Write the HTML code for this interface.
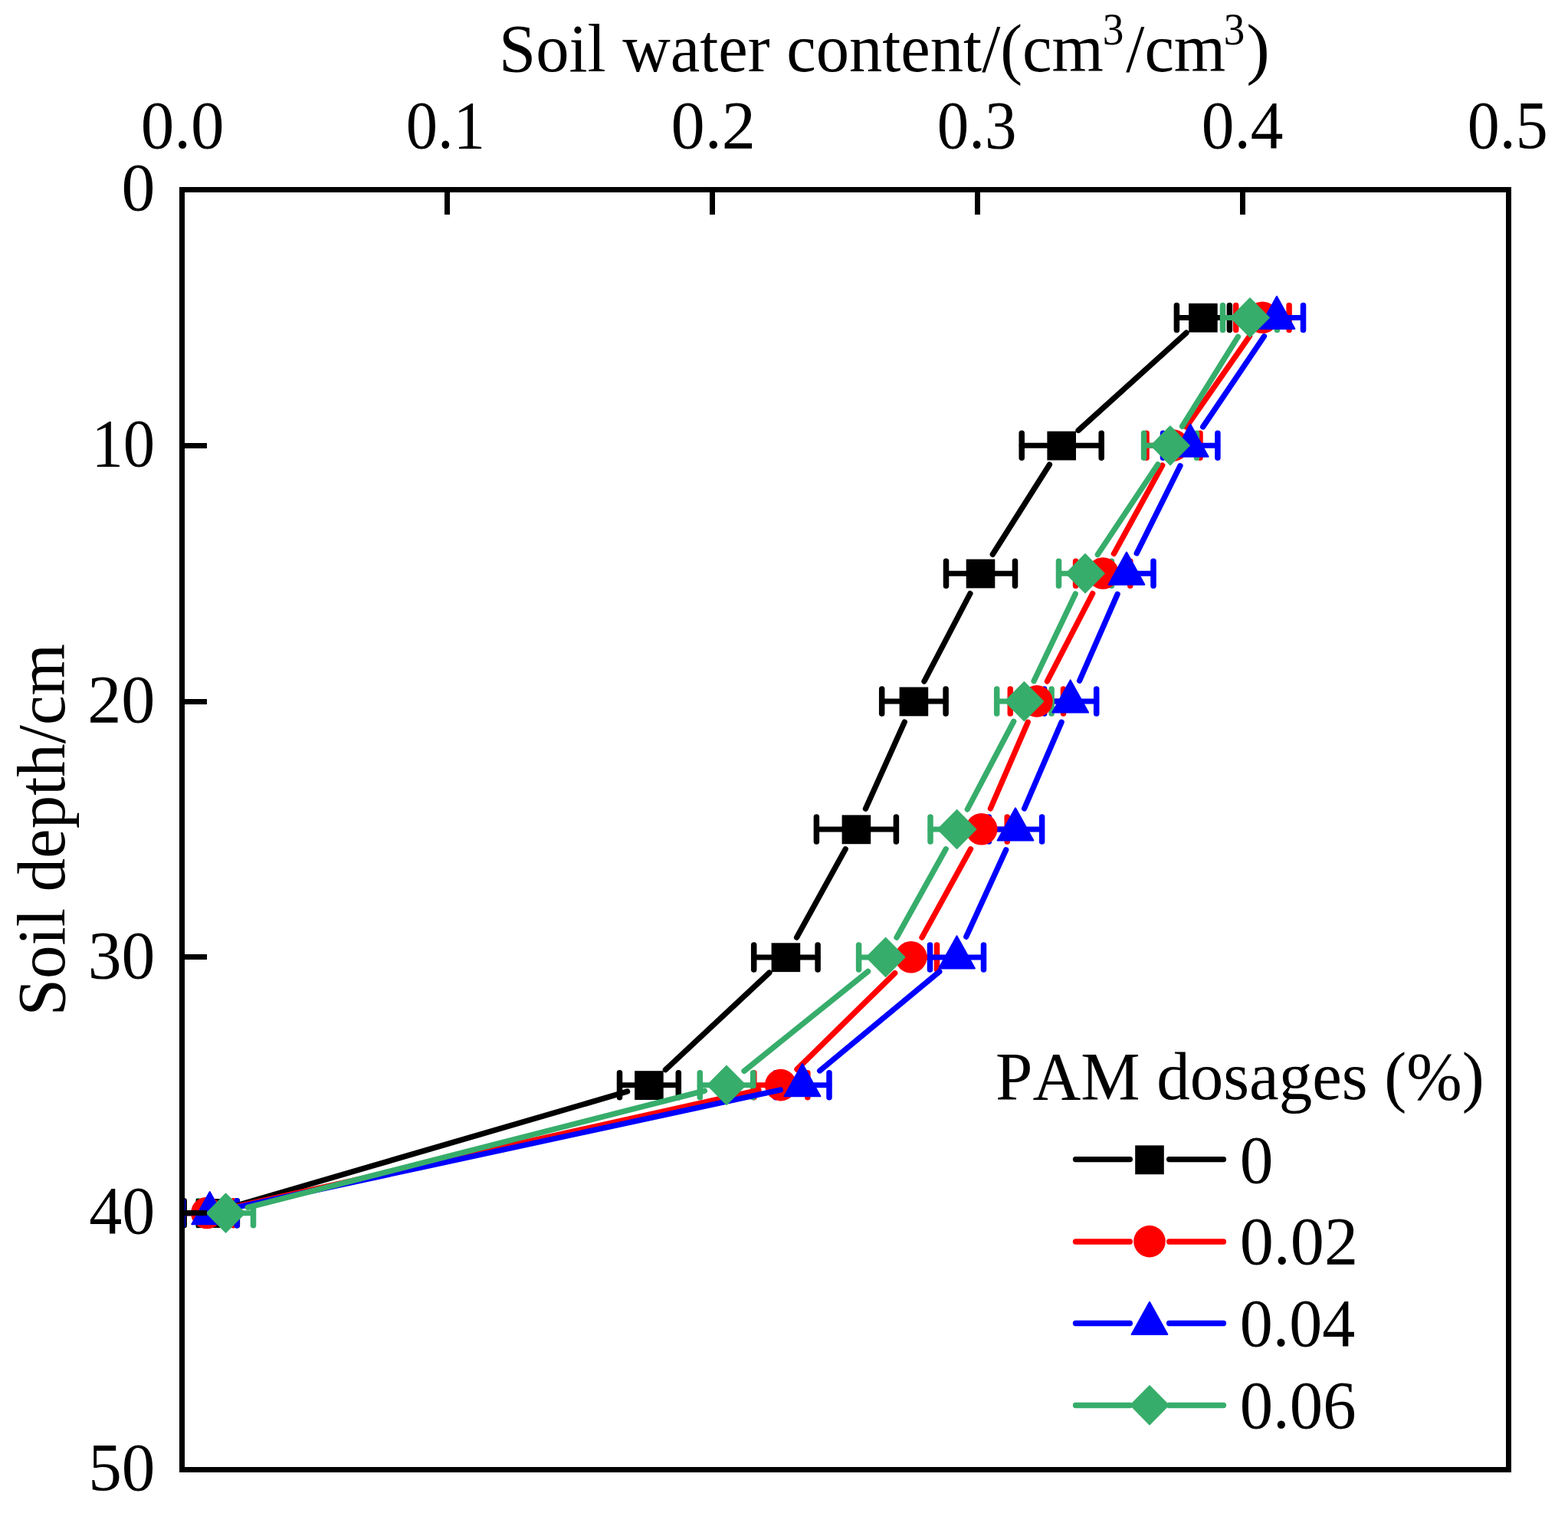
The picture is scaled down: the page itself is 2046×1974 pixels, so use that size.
<!DOCTYPE html>
<html lang="en"><head><meta charset="utf-8"><title>Soil water content vs soil depth</title>
<style>html,body{margin:0;padding:0;background:#fff;width:2046px;height:1974px;overflow:hidden}svg{display:block}text{font-family:"Liberation Serif", "DejaVu Serif", serif;fill:#000;font-kerning:none}</style></head><body>
<svg width="2046" height="1974" viewBox="0 0 2046 1974">
<rect x="0" y="0" width="2046" height="1974" fill="#fff"/>
<defs><clipPath id="plot"><rect x="237.5" y="247.5" width="1731.0" height="1670.0"/></clipPath></defs>
<g id="errorbars" fill="none" stroke-linecap="round" stroke-width="7.3" clip-path="url(#plot)">
<path stroke="#000000" stroke-width="7.0" d="M1535.4,414.4H1604.4M1333.2,581.3H1437.2M1234.5,748.2H1324.5M1150.7,915.1H1234.1M1065.4,1082.0H1169.4M983.7,1248.9H1067.1M808.5,1415.8H885.3M240.2,1582.7H309.4"/>
<path stroke="#000000" stroke-width="7.5" d="M1535.4,398.4V430.4M1604.4,398.4V430.4M1333.2,565.3V597.3M1437.2,565.3V597.3M1234.5,732.2V764.2M1324.5,732.2V764.2M1150.7,899.1V931.1M1234.1,899.1V931.1M1065.4,1066.0V1098.0M1169.4,1066.0V1098.0M983.7,1232.9V1264.9M1067.1,1232.9V1264.9M808.5,1399.8V1431.8M885.3,1399.8V1431.8M240.2,1566.7V1598.7M309.4,1566.7V1598.7"/>
<path stroke="#FF0000" stroke-width="7.0" d="M1612.7,414.4H1682.1M1496.0,581.3H1566.0M1403.6,748.2H1474.8M1318.3,915.1H1387.5M1247.2,1082.0H1314.2M1155.1,1248.9H1222.5M983.8,1415.8H1053.8M235.3,1582.7H304.5"/>
<path stroke="#FF0000" stroke-width="7.5" d="M1612.7,398.4V430.4M1682.1,398.4V430.4M1496.0,565.3V597.3M1566.0,565.3V597.3M1403.6,732.2V764.2M1474.8,732.2V764.2M1318.3,899.1V931.1M1387.5,899.1V931.1M1247.2,1066.0V1098.0M1314.2,1066.0V1098.0M1155.1,1232.9V1264.9M1222.5,1232.9V1264.9M983.8,1399.8V1431.8M1053.8,1399.8V1431.8M235.3,1566.7V1598.7M304.5,1566.7V1598.7"/>
<path stroke="#0000FF" stroke-width="7.0" d="M1631.5,414.4H1700.5M1517.5,581.3H1588.9M1435.0,748.2H1505.0M1362.7,915.1H1430.7M1290.4,1082.0H1359.6M1213.5,1248.9H1283.5M1012.0,1415.8H1082.0M238.4,1582.7H309.0"/>
<path stroke="#0000FF" stroke-width="7.5" d="M1631.5,398.4V430.4M1700.5,398.4V430.4M1517.5,565.3V597.3M1588.9,565.3V597.3M1435.0,732.2V764.2M1505.0,732.2V764.2M1362.7,899.1V931.1M1430.7,899.1V931.1M1290.4,1066.0V1098.0M1359.6,1066.0V1098.0M1213.5,1232.9V1264.9M1283.5,1232.9V1264.9M1012.0,1399.8V1431.8M1082.0,1399.8V1431.8M238.4,1566.7V1598.7M309.0,1566.7V1598.7"/>
<path stroke="#37AD6B" stroke-width="7.0" d="M1595.5,414.4H1666.5M1492.6,581.3H1561.4M1381.5,748.2H1450.5M1300.7,915.1H1372.1M1214.0,1082.0H1283.2M1120.6,1248.9H1190.6M913.3,1415.8H982.7M258.7,1582.7H330.5"/>
<path stroke="#37AD6B" stroke-width="7.5" d="M1595.5,398.4V430.4M1666.5,398.4V430.4M1492.6,565.3V597.3M1561.4,565.3V597.3M1381.5,732.2V764.2M1450.5,732.2V764.2M1300.7,899.1V931.1M1372.1,899.1V931.1M1214.0,1066.0V1098.0M1283.2,1066.0V1098.0M1120.6,1232.9V1264.9M1190.6,1232.9V1264.9M913.3,1399.8V1431.8M982.7,1399.8V1431.8M258.7,1566.7V1598.7M330.5,1566.7V1598.7"/>
</g>
<g id="series" clip-path="url(#plot)">
<path fill="none" stroke="#000000" stroke-width="7.3" stroke-linecap="round" d="M1548.0,434.2L1407.1,561.5M1369.4,606.2L1295.3,723.3M1265.9,774.4L1206.0,888.9M1180.3,942.0L1129.5,1055.1M1103.2,1107.8L1039.6,1223.1M1003.9,1269.0L868.4,1395.7M818.6,1424.1L303.1,1574.4"/>
<rect x="1551.10" y="395.80" width="37.60" height="37.80" fill="#000000"/>
<rect x="1366.40" y="562.70" width="37.60" height="37.80" fill="#000000"/>
<rect x="1260.70" y="729.60" width="37.60" height="37.80" fill="#000000"/>
<rect x="1173.60" y="896.50" width="37.60" height="37.80" fill="#000000"/>
<rect x="1098.60" y="1063.40" width="37.60" height="37.80" fill="#000000"/>
<rect x="1006.60" y="1230.30" width="37.60" height="37.80" fill="#000000"/>
<rect x="828.10" y="1397.20" width="37.60" height="37.80" fill="#000000"/>
<rect x="256.00" y="1564.10" width="37.60" height="37.80" fill="#000000"/>
<path fill="none" stroke="#FF0000" stroke-width="7.3" stroke-linecap="round" d="M1630.5,438.6L1547.9,557.1M1516.8,607.1L1453.4,722.4M1425.7,774.4L1366.4,888.9M1341.2,942.2L1292.4,1054.9M1266.5,1107.8L1203.0,1223.1M1167.7,1269.6L1039.9,1395.1M990.0,1422.2L298.7,1576.3"/>
<circle cx="1647.40" cy="414.20" r="20.8" fill="#FF0000"/>
<circle cx="1531.00" cy="581.10" r="20.8" fill="#FF0000"/>
<circle cx="1439.20" cy="748.00" r="20.8" fill="#FF0000"/>
<circle cx="1352.90" cy="914.90" r="20.8" fill="#FF0000"/>
<circle cx="1280.70" cy="1081.80" r="20.8" fill="#FF0000"/>
<circle cx="1188.80" cy="1248.70" r="20.8" fill="#FF0000"/>
<circle cx="1018.80" cy="1415.60" r="20.8" fill="#FF0000"/>
<circle cx="269.90" cy="1582.50" r="20.8" fill="#FF0000"/>
<path fill="none" stroke="#0000FF" stroke-width="7.3" stroke-linecap="round" d="M1649.5,438.8L1569.7,556.9M1540.0,607.7L1483.2,721.8M1458.1,775.2L1408.6,888.1M1385.1,942.2L1336.6,1054.9M1312.7,1108.8L1260.8,1222.1M1225.8,1267.7L1069.7,1397.0M1018.2,1422.0L302.5,1576.5"/>
<polygon points="1666.00,386.70 1689.40,428.90 1642.60,428.90" fill="#0000FF" stroke="#0000FF" stroke-width="2" stroke-linejoin="round"/>
<polygon points="1553.20,553.60 1576.60,595.80 1529.80,595.80" fill="#0000FF" stroke="#0000FF" stroke-width="2" stroke-linejoin="round"/>
<polygon points="1470.00,720.50 1493.40,762.70 1446.60,762.70" fill="#0000FF" stroke="#0000FF" stroke-width="2" stroke-linejoin="round"/>
<polygon points="1396.70,887.40 1420.10,929.60 1373.30,929.60" fill="#0000FF" stroke="#0000FF" stroke-width="2" stroke-linejoin="round"/>
<polygon points="1325.00,1054.30 1348.40,1096.50 1301.60,1096.50" fill="#0000FF" stroke="#0000FF" stroke-width="2" stroke-linejoin="round"/>
<polygon points="1248.50,1221.20 1271.90,1263.40 1225.10,1263.40" fill="#0000FF" stroke="#0000FF" stroke-width="2" stroke-linejoin="round"/>
<polygon points="1047.00,1388.10 1070.40,1430.30 1023.60,1430.30" fill="#0000FF" stroke="#0000FF" stroke-width="2" stroke-linejoin="round"/>
<polygon points="273.70,1555.00 297.10,1597.20 250.30,1597.20" fill="#0000FF" stroke="#0000FF" stroke-width="2" stroke-linejoin="round"/>
<path fill="none" stroke="#37AD6B" stroke-width="7.3" stroke-linecap="round" d="M1615.4,439.4L1542.6,556.3M1510.7,605.9L1432.3,723.6M1403.3,774.8L1349.1,888.5M1322.7,941.2L1262.3,1055.9M1234.2,1107.8L1170.0,1223.1M1132.6,1267.4L971.0,1397.3M919.4,1423.1L323.2,1575.4"/>
<polygon points="1631.00,389.10 1656.00,414.40 1631.00,439.70 1606.00,414.40" fill="#37AD6B" stroke="#37AD6B" stroke-width="1.6" stroke-linejoin="round"/>
<polygon points="1527.00,556.00 1552.00,581.30 1527.00,606.60 1502.00,581.30" fill="#37AD6B" stroke="#37AD6B" stroke-width="1.6" stroke-linejoin="round"/>
<polygon points="1416.00,722.90 1441.00,748.20 1416.00,773.50 1391.00,748.20" fill="#37AD6B" stroke="#37AD6B" stroke-width="1.6" stroke-linejoin="round"/>
<polygon points="1336.40,889.80 1361.40,915.10 1336.40,940.40 1311.40,915.10" fill="#37AD6B" stroke="#37AD6B" stroke-width="1.6" stroke-linejoin="round"/>
<polygon points="1248.60,1056.70 1273.60,1082.00 1248.60,1107.30 1223.60,1082.00" fill="#37AD6B" stroke="#37AD6B" stroke-width="1.6" stroke-linejoin="round"/>
<polygon points="1155.60,1223.60 1180.60,1248.90 1155.60,1274.20 1130.60,1248.90" fill="#37AD6B" stroke="#37AD6B" stroke-width="1.6" stroke-linejoin="round"/>
<polygon points="948.00,1390.50 973.00,1415.80 948.00,1441.10 923.00,1415.80" fill="#37AD6B" stroke="#37AD6B" stroke-width="1.6" stroke-linejoin="round"/>
<polygon points="294.60,1557.40 319.60,1582.70 294.60,1608.00 269.60,1582.70" fill="#37AD6B" stroke="#37AD6B" stroke-width="1.6" stroke-linejoin="round"/>
</g>
<g id="axes" stroke="#000" stroke-width="7.0" fill="none" stroke-linecap="butt">
<rect x="237.5" y="247.5" width="1731.0" height="1670.0"/>
<path d="M583.50,247.50V280.00M929.50,247.50V280.00M1275.50,247.50V280.00M1621.50,247.50V280.00M237.50,581.50H270.00M237.50,915.50H270.00M237.50,1248.50H270.00M237.50,1582.50H270.00"/>
</g>
<g id="xticklabels">
<text transform="translate(183.66,192.81) scale(1.0008,1.0226)" font-size="87.0">0.0</text>
<text transform="translate(529.77,192.81) scale(0.9493,1.0226)" font-size="87.0">0.1</text>
<text transform="translate(875.46,192.81) scale(1.0166,1.0226)" font-size="87.0">0.2</text>
<text transform="translate(1222.76,192.81) scale(0.9542,1.0226)" font-size="87.0">0.3</text>
<text transform="translate(1567.77,192.81) scale(0.9817,1.0226)" font-size="87.0">0.4</text>
<text transform="translate(1914.82,192.81) scale(0.9659,1.0226)" font-size="87.0">0.5</text>
</g>
<g id="yticklabels">
<text transform="translate(158.48,274.11) scale(1.0089,1.0242)" font-size="87.0">0</text>
<text transform="translate(119.48,608.11) scale(0.9506,1.0242)" font-size="87.0">10</text>
<text transform="translate(114.14,942.01) scale(1.0144,1.0242)" font-size="87.0">20</text>
<text transform="translate(114.71,1276.01) scale(1.0075,1.0242)" font-size="87.0">30</text>
<text transform="translate(116.28,1608.91) scale(0.9888,1.0242)" font-size="87.0">40</text>
<text transform="translate(115.16,1944.21) scale(1.0022,1.0242)" font-size="87.0">50</text>
</g>
<g id="xtitle">
<text transform="translate(651.03,93.00) scale(0.9955,1.0100)" font-size="87.0">Soil water content/(cm</text>
<text transform="translate(1438.81,57.70) scale(0.6368,0.6897)" font-size="87.0">3</text>
<text transform="translate(1469.30,93.00) scale(0.9965,1.0100)" font-size="87.0">/cm</text>
<text transform="translate(1596.73,57.70) scale(0.6340,0.6897)" font-size="87.0">3</text>
<text transform="translate(1626.24,93.00) scale(1.0569,1.0100)" font-size="87.0">)</text>
</g>
<text id="ytitle" transform="translate(84.0,1325.40) rotate(-90) scale(1.0000,1.01)" font-size="87.0">Soil depth/cm</text>
<g id="legend">
<text transform="translate(1299.09,1433.70) scale(0.9995,1.0100)" font-size="87.0">PAM dosages (%)</text>
<path fill="none" stroke="#000000" stroke-width="7.3" stroke-linecap="round" d="M1403.5,1512.6H1474.4M1525.6,1512.6H1596.5"/>
<rect x="1481.20" y="1494.40" width="37.60" height="37.80" fill="#000000"/>
<text transform="translate(1617.69,1542.50) scale(1.0048,1.0294)" font-size="87.0">0</text>
<path fill="none" stroke="#FF0000" stroke-width="7.3" stroke-linecap="round" d="M1403.5,1620.0H1474.4M1525.6,1620.0H1596.5"/>
<circle cx="1500.00" cy="1619.60" r="20.8" fill="#FF0000"/>
<text transform="translate(1617.67,1649.01) scale(1.0137,1.0243)" font-size="87.0">0.02</text>
<path fill="none" stroke="#0000FF" stroke-width="7.3" stroke-linecap="round" d="M1403.5,1726.5H1474.4M1525.6,1726.5H1596.5"/>
<polygon points="1500.00,1698.80 1523.40,1741.00 1476.60,1741.00" fill="#0000FF" stroke="#0000FF" stroke-width="2" stroke-linejoin="round"/>
<text transform="translate(1617.74,1755.71) scale(0.9898,1.0243)" font-size="87.0">0.04</text>
<path fill="none" stroke="#37AD6B" stroke-width="7.3" stroke-linecap="round" d="M1403.5,1833.5H1474.4M1525.6,1833.5H1596.5"/>
<polygon points="1500.00,1808.00 1525.00,1833.30 1500.00,1858.60 1475.00,1833.30" fill="#37AD6B" stroke="#37AD6B" stroke-width="1.6" stroke-linejoin="round"/>
<text transform="translate(1617.72,1862.51) scale(0.9976,1.0243)" font-size="87.0">0.06</text>
</g>
</svg></body></html>
